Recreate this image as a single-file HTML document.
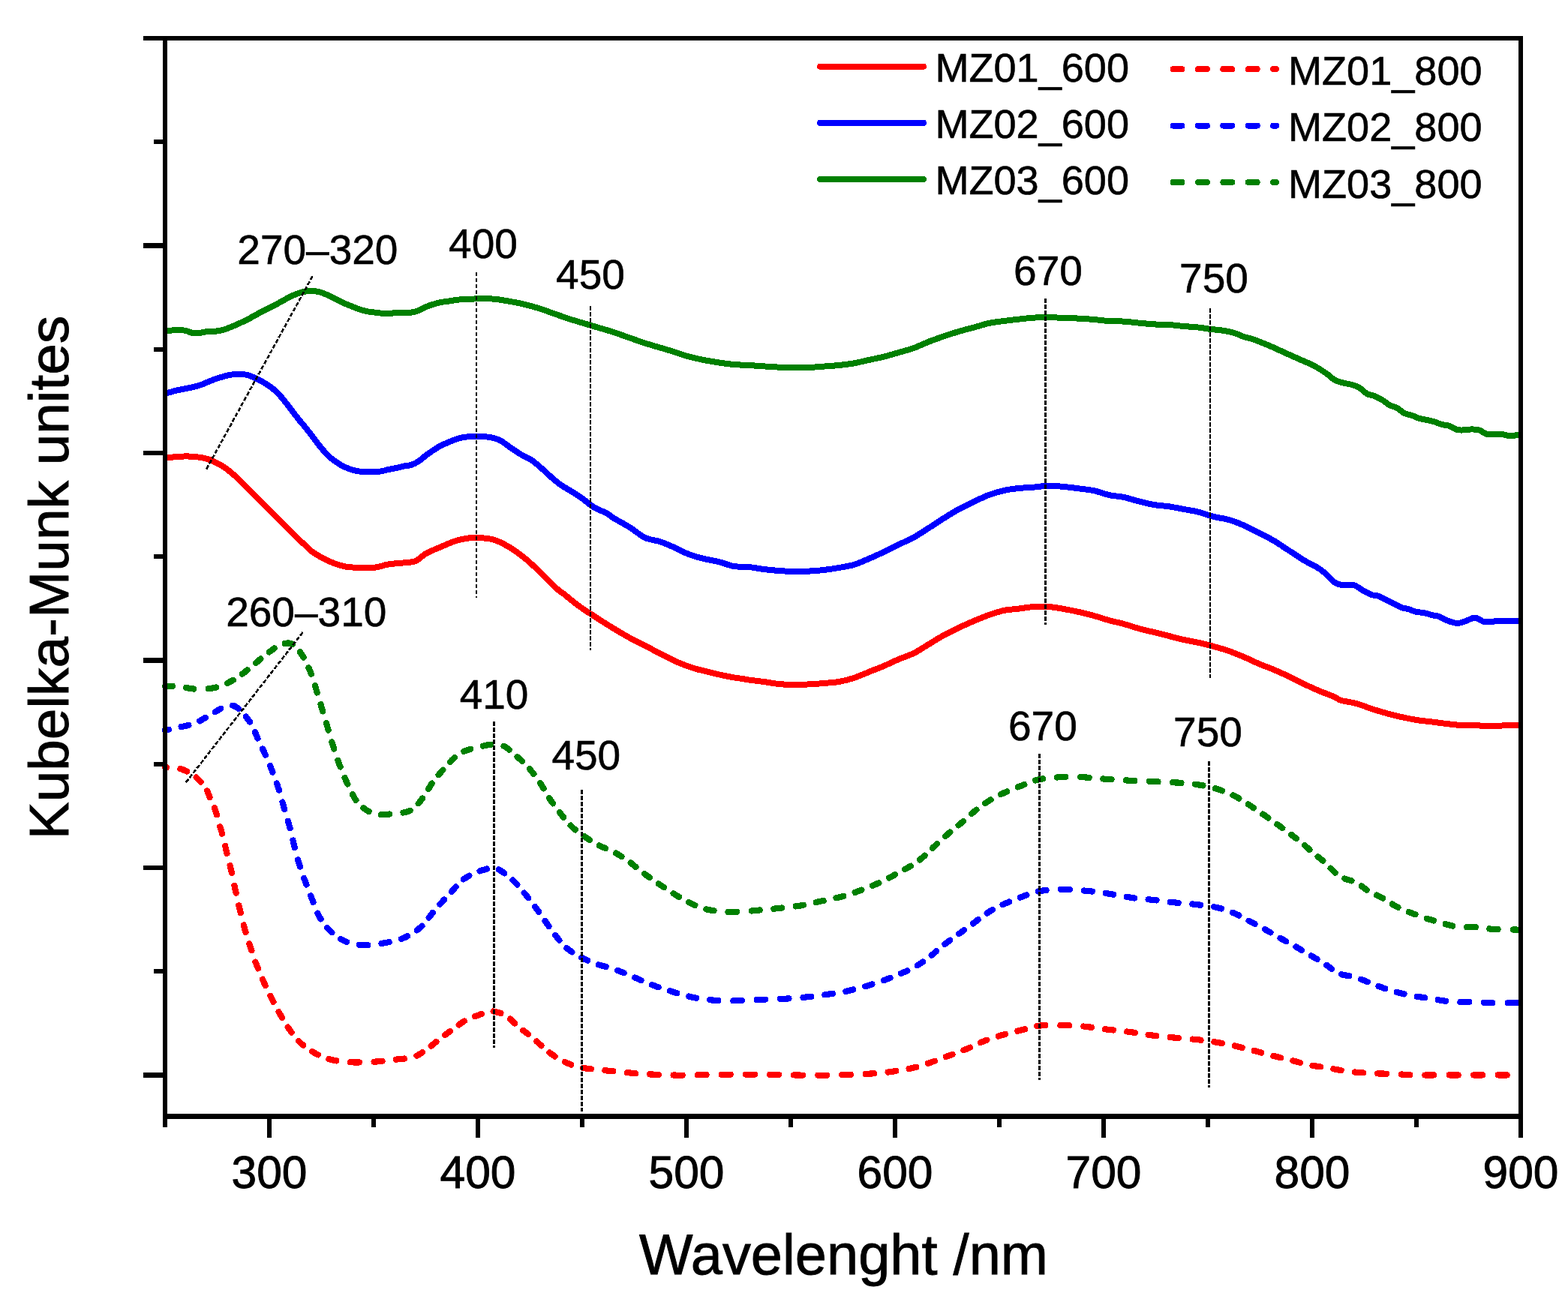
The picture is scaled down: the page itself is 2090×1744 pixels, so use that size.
<!DOCTYPE html>
<html><head><meta charset="utf-8"><title>Kubelka-Munk spectra</title>
<style>html,body{margin:0;padding:0;background:#fff;}svg{display:block;}text{font-family:'Liberation Sans', Arial, sans-serif;fill:#000;stroke:#000;stroke-width:0.6px;}text.b{stroke-width:0.9px;}</style>
</head><body>
<svg width="2090" height="1744" viewBox="0 0 2090 1744">
<rect width="2090" height="1744" fill="#fff"/>
<g id="curves" shape-rendering="crispEdges">
<path d="M220.0,441.0 C220.5,441.0 220.0,441.2 223.0,441.0 C226.0,440.8 233.8,440.0 238.0,440.0 C242.2,440.0 244.7,440.3 248.0,441.0 C251.3,441.7 254.7,444.0 258.0,444.4 C261.3,444.8 264.7,444.1 268.0,443.6 C271.3,443.1 274.7,441.9 278.0,441.6 C281.3,441.3 284.7,441.9 288.0,441.6 C291.3,441.3 294.7,440.5 298.0,439.6 C301.3,438.7 304.7,437.3 308.0,436.0 C311.3,434.7 314.7,433.1 318.0,431.6 C321.3,430.1 324.7,428.7 328.0,427.0 C331.3,425.3 334.7,423.4 338.0,421.6 C341.3,419.8 344.7,417.8 348.0,416.0 C351.3,414.2 354.7,412.7 358.0,411.0 C361.3,409.3 364.7,407.8 368.0,406.0 C371.3,404.2 374.7,402.2 378.0,400.4 C381.3,398.6 384.7,396.6 388.0,395.0 C391.3,393.4 394.7,392.1 398.0,391.0 C401.3,389.9 404.7,388.9 408.0,388.4 C411.3,387.9 414.7,387.7 418.0,388.0 C421.3,388.3 424.7,389.0 428.0,390.0 C431.3,391.0 434.7,392.5 438.0,394.0 C441.3,395.5 444.7,397.3 448.0,399.0 C451.3,400.7 454.7,402.5 458.0,404.0 C461.3,405.5 464.7,406.7 468.0,408.0 C471.3,409.3 474.7,410.8 478.0,412.0 C481.3,413.2 484.7,414.3 488.0,415.0 C491.3,415.7 494.7,416.0 498.0,416.4 C501.3,416.8 504.7,417.4 508.0,417.6 C511.3,417.8 514.7,417.6 518.0,417.6 C521.3,417.6 524.7,417.5 528.0,417.4 C531.3,417.3 534.7,417.1 538.0,417.0 C541.3,416.9 544.7,417.1 548.0,416.6 C551.3,416.1 554.7,415.3 558.0,414.0 C561.3,412.7 564.7,410.4 568.0,409.0 C571.3,407.6 574.7,406.6 578.0,405.6 C581.3,404.6 584.7,403.7 588.0,403.0 C591.3,402.3 594.7,402.1 598.0,401.6 C601.3,401.1 604.7,400.4 608.0,400.0 C611.3,399.6 613.0,399.3 618.0,399.0 C623.0,398.7 631.3,398.5 638.0,398.4 C644.7,398.3 651.3,398.1 658.0,398.6 C664.7,399.1 671.3,400.4 678.0,401.6 C684.7,402.8 691.3,404.0 698.0,405.6 C704.7,407.2 711.3,408.9 718.0,411.0 C724.7,413.1 731.3,415.7 738.0,418.0 C744.7,420.3 751.3,422.8 758.0,425.0 C764.7,427.2 771.3,429.0 778.0,431.0 C784.7,433.0 791.3,435.0 798.0,437.0 C804.7,439.0 811.3,440.8 818.0,443.0 C824.7,445.2 831.3,447.7 838.0,450.0 C844.7,452.3 851.3,454.8 858.0,457.0 C864.7,459.2 871.3,461.0 878.0,463.0 C884.7,465.0 891.3,466.9 898.0,469.0 C904.7,471.1 911.3,473.6 918.0,475.4 C924.7,477.2 931.3,478.7 938.0,480.0 C944.7,481.3 951.3,482.4 958.0,483.4 C964.7,484.4 971.3,485.4 978.0,486.0 C984.7,486.6 991.3,486.6 998.0,487.0 C1004.7,487.4 1011.3,488.0 1018.0,488.4 C1024.7,488.8 1031.3,489.3 1038.0,489.6 C1044.7,489.9 1051.3,490.3 1058.0,490.4 C1064.7,490.5 1071.3,490.3 1078.0,490.0 C1084.7,489.7 1091.3,489.1 1098.0,488.6 C1104.7,488.1 1111.3,487.7 1118.0,487.0 C1124.7,486.3 1131.3,485.6 1138.0,484.4 C1144.7,483.2 1151.3,481.5 1158.0,480.0 C1164.7,478.5 1171.3,477.3 1178.0,475.6 C1184.7,473.9 1191.3,471.9 1198.0,470.0 C1204.7,468.1 1211.3,466.4 1218.0,464.0 C1224.7,461.6 1231.3,458.2 1238.0,455.6 C1244.7,453.0 1251.3,450.7 1258.0,448.4 C1264.7,446.1 1271.3,444.0 1278.0,442.0 C1284.7,440.0 1291.3,438.4 1298.0,436.6 C1304.7,434.8 1311.3,432.4 1318.0,431.0 C1324.7,429.6 1331.3,428.9 1338.0,428.0 C1344.7,427.1 1351.3,426.3 1358.0,425.6 C1364.7,424.9 1371.3,424.0 1378.0,423.6 C1384.7,423.2 1391.3,422.9 1398.0,423.0 C1404.7,423.1 1411.3,423.7 1418.0,424.0 C1424.7,424.3 1431.3,424.3 1438.0,424.6 C1444.7,424.9 1451.3,425.4 1458.0,426.0 C1464.7,426.6 1471.3,427.6 1478.0,428.0 C1484.7,428.4 1491.3,428.2 1498.0,428.6 C1504.7,429.0 1511.3,430.0 1518.0,430.6 C1524.7,431.2 1531.3,432.0 1538.0,432.4 C1544.7,432.8 1551.3,432.6 1558.0,433.0 C1564.7,433.4 1571.3,434.4 1578.0,435.0 C1584.7,435.6 1592.0,435.9 1598.0,436.6 C1604.0,437.3 1609.0,438.4 1614.0,439.0 C1619.0,439.6 1623.0,439.6 1628.0,440.4 C1633.0,441.2 1639.0,442.2 1644.0,443.6 C1649.0,445.0 1653.3,447.4 1658.0,449.0 C1662.7,450.6 1666.3,451.0 1672.0,453.0 C1677.7,455.0 1685.3,458.2 1692.0,461.0 C1698.7,463.8 1705.3,467.0 1712.0,470.0 C1718.7,473.0 1725.3,476.0 1732.0,479.0 C1738.7,482.0 1746.0,484.8 1752.0,488.0 C1758.0,491.2 1763.7,495.0 1768.0,498.0 C1772.3,501.0 1774.7,504.0 1778.0,506.0 C1781.3,508.0 1784.0,508.8 1788.0,510.0 C1792.0,511.2 1798.0,511.8 1802.0,513.0 C1806.0,514.2 1808.7,515.0 1812.0,517.0 C1815.3,519.0 1818.7,523.2 1822.0,525.0 C1825.3,526.8 1828.7,526.7 1832.0,528.0 C1835.3,529.3 1838.7,531.0 1842.0,533.0 C1845.3,535.0 1848.7,538.2 1852.0,540.0 C1855.3,541.8 1858.7,542.2 1862.0,544.0 C1865.3,545.8 1868.7,549.3 1872.0,551.0 C1875.3,552.7 1878.7,552.8 1882.0,554.0 C1885.3,555.2 1888.7,557.0 1892.0,558.0 C1895.3,559.0 1898.7,559.3 1902.0,560.0 C1905.3,560.7 1908.7,561.4 1912.0,562.4 C1915.3,563.4 1918.7,565.1 1922.0,566.0 C1925.3,566.9 1928.7,566.8 1932.0,568.0 C1935.3,569.2 1938.7,572.1 1942.0,573.0 C1945.3,573.9 1948.7,573.5 1952.0,573.4 C1955.3,573.3 1958.7,572.4 1962.0,572.4 C1965.3,572.4 1968.7,572.5 1972.0,573.6 C1975.3,574.7 1978.7,578.2 1982.0,579.0 C1985.3,579.8 1988.7,578.6 1992.0,578.6 C1995.3,578.6 1998.7,578.6 2002.0,579.0 C2005.3,579.4 2008.3,580.8 2012.0,581.0 C2015.7,581.2 2022.0,580.2 2024.0,580.0" fill="none" stroke="#008000" stroke-width="8" stroke-linejoin="round"/>
<path d="M220.0,524.5 C220.5,524.4 220.0,524.8 223.0,524.0 C226.0,523.2 232.2,521.3 238.0,520.0 C243.8,518.7 253.0,517.2 258.0,516.0 C263.0,514.8 264.7,514.2 268.0,513.0 C271.3,511.8 274.7,510.3 278.0,509.0 C281.3,507.7 284.7,506.2 288.0,505.0 C291.3,503.8 294.7,502.9 298.0,502.0 C301.3,501.1 304.7,500.1 308.0,499.6 C311.3,499.1 314.7,499.0 318.0,499.0 C321.3,499.0 324.7,498.9 328.0,499.6 C331.3,500.3 334.7,501.6 338.0,503.0 C341.3,504.4 344.7,506.2 348.0,508.0 C351.3,509.8 354.7,511.7 358.0,514.0 C361.3,516.3 364.7,518.8 368.0,522.0 C371.3,525.2 374.7,529.0 378.0,533.0 C381.3,537.0 384.7,541.7 388.0,546.0 C391.3,550.3 394.7,554.8 398.0,559.0 C401.3,563.2 404.7,566.8 408.0,571.0 C411.3,575.2 414.7,579.7 418.0,584.0 C421.3,588.3 424.7,593.0 428.0,597.0 C431.3,601.0 434.7,604.8 438.0,608.0 C441.3,611.2 444.7,613.7 448.0,616.0 C451.3,618.3 454.7,620.3 458.0,622.0 C461.3,623.7 464.7,624.9 468.0,626.0 C471.3,627.1 474.7,627.9 478.0,628.4 C481.3,628.9 484.7,628.9 488.0,629.0 C491.3,629.1 494.7,629.1 498.0,629.0 C501.3,628.9 504.7,628.9 508.0,628.4 C511.3,627.9 514.7,626.7 518.0,626.0 C521.3,625.3 524.7,624.7 528.0,624.0 C531.3,623.3 534.7,622.3 538.0,621.6 C541.3,620.9 544.7,621.1 548.0,620.0 C551.3,618.9 554.7,617.2 558.0,615.0 C561.3,612.8 564.7,609.5 568.0,607.0 C571.3,604.5 574.7,602.2 578.0,600.0 C581.3,597.8 584.7,595.7 588.0,594.0 C591.3,592.3 594.7,591.0 598.0,589.6 C601.3,588.2 604.7,586.7 608.0,585.6 C611.3,584.5 613.7,583.7 618.0,583.0 C622.3,582.3 629.0,581.7 634.0,581.6 C639.0,581.5 644.0,582.0 648.0,582.4 C652.0,582.8 654.7,583.1 658.0,584.0 C661.3,584.9 664.7,586.2 668.0,588.0 C671.3,589.8 674.7,592.7 678.0,595.0 C681.3,597.3 684.7,599.8 688.0,602.0 C691.3,604.2 694.7,606.2 698.0,608.0 C701.3,609.8 704.7,610.8 708.0,613.0 C711.3,615.2 714.7,618.2 718.0,621.0 C721.3,623.8 724.7,627.0 728.0,630.0 C731.3,633.0 734.7,636.2 738.0,639.0 C741.3,641.8 744.7,644.7 748.0,647.0 C751.3,649.3 754.7,651.0 758.0,653.0 C761.3,655.0 764.7,656.8 768.0,659.0 C771.3,661.2 774.7,663.5 778.0,666.0 C781.3,668.5 784.7,671.7 788.0,674.0 C791.3,676.3 794.7,677.9 798.0,679.6 C801.3,681.3 804.3,681.9 808.0,684.0 C811.7,686.1 814.7,688.8 820.0,692.0 C825.3,695.2 833.3,699.3 840.0,703.5 C846.7,707.7 853.3,713.9 860.0,717.0 C866.7,720.1 873.3,720.0 880.0,722.3 C886.7,724.5 893.7,727.7 900.0,730.5 C906.3,733.3 911.7,736.6 918.0,739.0 C924.3,741.4 931.3,743.3 938.0,745.0 C944.7,746.7 951.3,747.3 958.0,749.0 C964.7,750.7 971.3,753.8 978.0,755.0 C984.7,756.2 991.3,755.3 998.0,756.0 C1004.7,756.7 1011.3,758.2 1018.0,759.0 C1024.7,759.8 1031.3,760.5 1038.0,761.0 C1044.7,761.5 1051.3,761.9 1058.0,762.0 C1064.7,762.1 1071.3,761.9 1078.0,761.6 C1084.7,761.3 1091.3,760.8 1098.0,760.0 C1104.7,759.2 1111.3,758.2 1118.0,757.0 C1124.7,755.8 1131.3,755.0 1138.0,753.0 C1144.7,751.0 1151.3,747.8 1158.0,745.0 C1164.7,742.2 1171.3,739.2 1178.0,736.0 C1184.7,732.8 1191.3,729.2 1198.0,726.0 C1204.7,722.8 1211.3,720.2 1218.0,716.5 C1224.7,712.8 1231.3,708.2 1238.0,704.0 C1244.7,699.8 1251.3,695.2 1258.0,691.0 C1264.7,686.8 1271.3,682.7 1278.0,679.0 C1284.7,675.3 1291.3,672.2 1298.0,669.0 C1304.7,665.8 1311.3,662.5 1318.0,660.0 C1324.7,657.5 1331.3,655.5 1338.0,654.0 C1344.7,652.5 1351.3,651.7 1358.0,651.0 C1364.7,650.3 1371.3,650.2 1378.0,649.6 C1384.7,649.0 1391.3,647.7 1398.0,647.6 C1404.7,647.5 1411.3,648.4 1418.0,649.0 C1424.7,649.6 1431.3,650.5 1438.0,651.4 C1444.7,652.3 1451.3,652.8 1458.0,654.2 C1464.7,655.6 1471.3,658.5 1478.0,660.0 C1484.7,661.5 1491.3,661.6 1498.0,663.0 C1504.7,664.4 1511.3,666.8 1518.0,668.5 C1524.7,670.2 1531.3,671.9 1538.0,673.0 C1544.7,674.1 1551.3,674.3 1558.0,675.3 C1564.7,676.3 1571.3,677.8 1578.0,679.0 C1584.7,680.2 1591.3,681.1 1598.0,682.8 C1604.7,684.5 1611.3,687.3 1618.0,689.0 C1624.7,690.7 1631.3,691.1 1638.0,693.0 C1644.7,694.9 1651.3,697.6 1658.0,700.5 C1664.7,703.4 1671.3,707.1 1678.0,710.5 C1684.7,713.9 1691.3,717.1 1698.0,721.0 C1704.7,724.9 1711.3,729.7 1718.0,734.0 C1724.7,738.3 1731.3,743.0 1738.0,747.0 C1744.7,751.0 1753.0,754.8 1758.0,758.0 C1763.0,761.2 1764.7,763.0 1768.0,766.0 C1771.3,769.0 1774.7,773.7 1778.0,776.0 C1781.3,778.3 1783.7,779.3 1788.0,780.0 C1792.3,780.7 1799.0,778.7 1804.0,780.0 C1809.0,781.3 1814.0,785.8 1818.0,788.0 C1822.0,790.2 1824.7,791.8 1828.0,793.0 C1831.3,794.2 1834.7,793.8 1838.0,795.0 C1841.3,796.2 1844.7,798.3 1848.0,800.0 C1851.3,801.7 1854.7,803.3 1858.0,805.0 C1861.3,806.7 1864.7,808.8 1868.0,810.0 C1871.3,811.2 1874.7,811.4 1878.0,812.4 C1881.3,813.4 1884.7,815.2 1888.0,816.0 C1891.3,816.8 1894.7,816.3 1898.0,817.0 C1901.3,817.7 1904.7,819.2 1908.0,820.0 C1911.3,820.8 1914.7,820.8 1918.0,822.0 C1921.3,823.2 1924.0,825.5 1928.0,827.0 C1932.0,828.5 1937.7,830.8 1942.0,831.0 C1946.3,831.2 1950.0,829.2 1954.0,828.0 C1958.0,826.8 1962.0,823.4 1966.0,823.6 C1970.0,823.8 1974.3,828.1 1978.0,829.0 C1981.7,829.9 1984.7,829.2 1988.0,829.0 C1991.3,828.8 1994.7,827.7 1998.0,827.6 C2001.3,827.5 2003.7,828.4 2008.0,828.4 C2012.3,828.4 2021.3,827.7 2024.0,827.6" fill="none" stroke="#0000ff" stroke-width="8" stroke-linejoin="round"/>
<path d="M220.0,610.0 C220.5,610.0 220.0,610.2 223.0,610.0 C226.0,609.8 233.8,609.3 238.0,609.0 C242.2,608.7 244.7,608.4 248.0,608.4 C251.3,608.4 254.7,608.7 258.0,609.0 C261.3,609.3 264.7,609.4 268.0,610.0 C271.3,610.6 274.7,611.2 278.0,612.4 C281.3,613.6 284.7,615.3 288.0,617.0 C291.3,618.7 294.7,620.2 298.0,622.4 C301.3,624.6 304.7,627.2 308.0,630.0 C311.3,632.8 314.7,635.8 318.0,639.0 C321.3,642.2 324.7,645.7 328.0,649.0 C331.3,652.3 334.7,655.7 338.0,659.0 C341.3,662.3 344.7,665.7 348.0,669.0 C351.3,672.3 354.7,675.7 358.0,679.0 C361.3,682.3 364.7,685.7 368.0,689.0 C371.3,692.3 374.7,695.7 378.0,699.0 C381.3,702.3 384.7,705.7 388.0,709.0 C391.3,712.3 394.7,715.8 398.0,719.0 C401.3,722.2 404.7,725.0 408.0,728.0 C411.3,731.0 413.0,733.7 418.0,737.0 C423.0,740.3 431.3,745.0 438.0,748.0 C444.7,751.0 451.3,753.5 458.0,755.0 C464.7,756.5 471.3,756.7 478.0,757.0 C484.7,757.3 491.3,757.8 498.0,757.0 C504.7,756.2 511.3,753.5 518.0,752.4 C524.7,751.3 532.0,751.1 538.0,750.4 C544.0,749.7 549.0,750.1 554.0,748.0 C559.0,745.9 562.3,741.2 568.0,738.0 C573.7,734.8 581.3,731.8 588.0,729.0 C594.7,726.2 601.3,723.0 608.0,721.0 C614.7,719.0 623.0,717.7 628.0,717.0 C633.0,716.3 633.0,716.6 638.0,717.0 C643.0,717.4 651.3,717.6 658.0,719.6 C664.7,721.6 671.3,725.1 678.0,729.0 C684.7,732.9 691.3,737.7 698.0,743.0 C704.7,748.3 711.0,754.3 718.0,761.0 C725.0,767.7 734.3,777.7 740.0,783.0 C745.7,788.3 748.2,789.3 752.4,792.6 C756.5,795.9 760.8,799.7 764.9,802.9 C769.0,806.1 773.1,809.1 777.3,812.0 C781.4,814.9 785.6,817.4 789.8,820.1 C793.9,822.8 798.1,825.6 802.2,828.2 C806.3,830.8 810.5,833.4 814.6,835.9 C818.8,838.4 823.0,840.9 827.1,843.4 C831.2,845.9 835.4,848.4 839.5,850.6 C843.6,852.8 847.9,854.7 852.0,856.8 C856.1,858.9 860.2,861.1 864.4,863.3 C868.5,865.5 872.8,867.7 876.9,869.9 C881.0,872.1 885.2,874.2 889.3,876.3 C893.4,878.4 897.6,880.5 901.7,882.3 C905.9,884.1 910.1,885.8 914.2,887.3 C918.4,888.8 922.5,890.4 926.6,891.6 C930.7,892.8 934.9,893.7 939.0,894.7 C943.1,895.7 947.4,896.8 951.5,897.8 C955.6,898.8 959.8,899.7 963.9,900.6 C968.0,901.5 972.2,902.4 976.4,903.1 C980.5,903.8 984.9,904.3 988.8,904.9 C992.7,905.5 995.1,906.1 1000.0,906.8 C1004.9,907.5 1011.7,908.1 1018.0,909.0 C1024.3,909.9 1031.3,911.3 1038.0,912.0 C1044.7,912.7 1051.3,912.9 1058.0,913.0 C1064.7,913.1 1071.3,912.7 1078.0,912.4 C1084.7,912.1 1091.3,911.6 1098.0,911.0 C1104.7,910.4 1111.3,910.2 1118.0,909.0 C1124.7,907.8 1131.3,906.2 1138.0,904.0 C1144.7,901.8 1151.3,898.7 1158.0,896.0 C1164.7,893.3 1171.3,890.8 1178.0,888.0 C1184.7,885.2 1191.3,881.8 1198.0,879.0 C1204.7,876.2 1211.3,874.3 1218.0,871.0 C1224.7,867.7 1231.3,863.0 1238.0,859.0 C1244.7,855.0 1251.3,850.7 1258.0,847.0 C1264.7,843.3 1271.3,840.2 1278.0,837.0 C1284.7,833.8 1291.3,830.8 1298.0,828.0 C1304.7,825.2 1311.3,822.3 1318.0,820.0 C1324.7,817.7 1331.3,815.4 1338.0,814.0 C1344.7,812.6 1351.3,812.4 1358.0,811.6 C1364.7,810.8 1371.3,809.4 1378.0,809.0 C1384.7,808.6 1391.3,808.5 1398.0,809.0 C1404.7,809.5 1411.3,810.8 1418.0,812.0 C1424.7,813.2 1431.3,814.5 1438.0,816.0 C1444.7,817.5 1451.3,819.2 1458.0,821.0 C1464.7,822.8 1471.3,825.2 1478.0,827.0 C1484.7,828.8 1491.3,830.2 1498.0,832.0 C1504.7,833.8 1511.3,836.2 1518.0,838.0 C1524.7,839.8 1531.3,841.3 1538.0,843.0 C1544.7,844.7 1551.3,846.3 1558.0,848.0 C1564.7,849.7 1571.3,851.5 1578.0,853.0 C1584.7,854.5 1591.3,855.5 1598.0,857.0 C1604.7,858.5 1611.3,860.2 1618.0,862.0 C1624.7,863.8 1631.3,865.7 1638.0,868.0 C1644.7,870.3 1651.3,873.2 1658.0,876.0 C1664.7,878.8 1671.3,882.2 1678.0,885.0 C1684.7,887.8 1691.3,890.2 1698.0,893.0 C1704.7,895.8 1711.3,898.8 1718.0,902.0 C1724.7,905.2 1731.3,908.8 1738.0,912.0 C1744.7,915.2 1751.3,918.2 1758.0,921.0 C1764.7,923.8 1773.0,926.8 1778.0,929.0 C1783.0,931.2 1783.0,932.5 1788.0,934.0 C1793.0,935.5 1801.3,936.2 1808.0,938.0 C1814.7,939.8 1821.3,942.8 1828.0,945.0 C1834.7,947.2 1841.3,949.2 1848.0,951.0 C1854.7,952.8 1861.3,954.5 1868.0,956.0 C1874.7,957.5 1881.3,958.9 1888.0,960.0 C1894.7,961.1 1901.3,961.6 1908.0,962.4 C1914.7,963.2 1921.3,964.2 1928.0,965.0 C1934.7,965.8 1941.3,966.7 1948.0,967.0 C1954.7,967.3 1962.7,966.8 1968.0,967.0 C1973.3,967.2 1975.0,968.3 1980.0,968.4 C1985.0,968.5 1990.7,967.8 1998.0,967.6 C2005.3,967.4 2019.7,967.1 2024.0,967.0" fill="none" stroke="#ff0000" stroke-width="8" stroke-linejoin="round"/>
<path d="M220.0,915.0 L222.0,914.9 L226.2,914.8 L229.7,914.7 M248.0,916.9 L251.0,917.5 L256.0,918.3 L258.3,918.6 M277.7,918.3 L281.2,917.9 L285.7,917.0 L287.9,916.5 M302.9,911.0 L304.5,910.2 L309.0,907.7 L310.7,906.8 M323.0,898.6 L326.0,896.3 L329.0,893.9 L329.7,893.4 M341.0,884.1 L343.3,882.1 L346.4,879.4 L347.4,878.5 M358.8,869.4 L360.6,868.1 L363.6,865.8 L365.8,864.4 M379.7,857.9 L383.7,857.4 L388.3,858.0 L389.9,858.8 M399.9,869.3 L401.8,872.1 L404.0,875.5 L404.6,876.6 M411.4,890.3 L412.3,892.3 L414.2,897.1 L414.8,898.8 M420.0,914.2 L420.8,917.1 L422.2,921.8 L422.7,923.5 M427.5,939.2 L428.3,941.9 L429.7,946.5 L430.3,948.4 M435.0,964.2 L435.6,966.2 L436.8,970.6 L437.7,973.5 M442.3,989.3 L443.1,991.7 L444.5,996.3 L445.2,998.5 M450.4,1013.8 L451.5,1016.7 L452.6,1019.8 L453.7,1022.5 M459.5,1037.1 L460.8,1040.0 L462.2,1043.1 L463.3,1045.4 M469.9,1059.2 L471.1,1061.5 L472.9,1064.5 L474.4,1066.8 M484.5,1077.2 L486.6,1078.8 L489.8,1081.0 L491.6,1082.1 M507.9,1086.3 L511.6,1086.2 L516.3,1085.8 L519.1,1085.5 M537.5,1083.5 L541.1,1082.7 L545.3,1081.3 L546.7,1080.7 M557.8,1071.2 L560.0,1068.5 L562.6,1065.2 L563.1,1064.5 M571.1,1052.1 L572.3,1049.9 L574.1,1046.9 L575.6,1044.6 M584.7,1033.1 L586.0,1031.5 L588.7,1028.5 L590.3,1026.7 M600.0,1015.9 L602.1,1013.7 L605.0,1011.0 L606.1,1010.0 M618.4,1001.8 L620.7,1000.9 L625.2,999.4 L627.3,998.7 M643.7,994.7 L647.6,993.8 L652.3,993.0 L653.8,992.8 M671.5,994.8 L673.5,995.8 L676.5,997.8 L678.7,999.6 M689.6,1009.2 L691.8,1011.1 L694.9,1013.9 L695.9,1014.9 M706.0,1025.3 L707.6,1027.3 L710.0,1030.2 L711.3,1031.9 M719.9,1043.9 L721.1,1045.6 L723.0,1048.7 L724.5,1051.3 M732.1,1064.2 L734.1,1067.1 L736.1,1070.1 L737.0,1071.3 M745.8,1083.0 L747.4,1085.0 L749.9,1088.2 L751.1,1089.7 M760.6,1100.6 L762.0,1102.0 L764.9,1104.7 L766.9,1106.4 M778.7,1115.1 L781.5,1117.0 L784.4,1119.0 L785.9,1119.9 M798.9,1127.4 L801.0,1128.5 L804.1,1129.8 L807.1,1131.1 M821.1,1137.6 L823.2,1138.8 L826.4,1140.8 L828.6,1142.2 M840.7,1150.5 L843.4,1152.6 L846.5,1155.2 L847.4,1155.9 M858.8,1165.0 L860.4,1166.2 L863.5,1168.4 L865.8,1170.0 M877.9,1178.3 L880.5,1180.1 L883.4,1182.1 L885.1,1183.2 M897.6,1191.2 L899.9,1192.7 L903.0,1194.7 L905.0,1195.8 M918.2,1203.1 L920.3,1204.2 L924.8,1206.3 L926.3,1207.0 M941.4,1212.4 L944.4,1213.1 L948.9,1213.9 L951.5,1214.3 M970.5,1215.8 L973.7,1215.8 L978.5,1215.7 L982.3,1215.6 M1001.7,1214.5 L1005.0,1214.2 L1009.5,1213.8 L1012.7,1213.5 M1031.4,1211.7 L1036.2,1211.2 L1040.7,1210.7 L1042.3,1210.5 M1060.7,1208.4 L1064.4,1207.9 L1069.0,1207.1 L1070.9,1206.7 M1087.8,1203.1 L1091.0,1202.3 L1095.5,1201.3 L1097.6,1200.9 M1114.6,1197.3 L1118.2,1196.5 L1122.6,1195.4 L1124.2,1194.9 M1139.6,1189.9 L1141.3,1189.3 L1145.9,1187.6 L1148.4,1186.6 M1163.1,1180.8 L1164.8,1180.1 L1169.4,1178.1 L1171.4,1177.2 M1185.2,1170.5 L1187.6,1169.2 L1190.6,1167.5 L1193.0,1166.2 M1206.2,1159.0 L1208.8,1157.5 L1211.9,1155.8 L1213.9,1154.7 M1226.1,1146.4 L1228.9,1144.0 L1232.2,1141.1 L1232.5,1140.8 M1243.0,1130.7 L1244.8,1129.0 L1247.6,1126.3 L1249.1,1124.9 M1259.9,1115.2 L1261.3,1113.9 L1264.1,1111.5 L1266.3,1109.6 M1277.6,1100.3 L1279.4,1098.8 L1282.5,1096.3 L1284.1,1094.9 M1294.9,1085.2 L1297.7,1082.7 L1301.0,1080.0 L1301.4,1079.7 M1313.2,1071.0 L1316.4,1068.9 L1319.5,1066.9 L1320.5,1066.3 M1333.9,1059.2 L1336.6,1057.9 L1340.0,1056.4 L1342.2,1055.4 M1356.7,1049.4 L1358.3,1048.8 L1363.0,1047.0 L1365.3,1046.1 M1380.2,1040.5 L1382.5,1039.8 L1387.3,1038.7 L1390.0,1038.3 M1408.7,1036.5 L1412.0,1036.3 L1416.6,1036.1 L1420.2,1035.9 M1440.2,1036.1 L1444.4,1036.3 L1448.9,1036.6 L1451.6,1036.8 M1470.3,1038.5 L1474.5,1038.9 L1479.2,1039.2 L1481.5,1039.4 M1500.9,1040.4 L1505.5,1040.7 L1510.0,1040.9 L1512.3,1041.0 M1531.9,1041.9 L1535.7,1042.1 L1540.5,1042.3 L1543.5,1042.4 M1563.1,1043.2 L1566.3,1043.4 L1570.9,1043.6 L1574.5,1043.8 M1593.1,1045.7 L1595.8,1046.1 L1600.6,1046.9 L1603.4,1047.4 M1620.1,1051.3 L1622.1,1051.9 L1626.8,1053.5 L1629.0,1054.3 M1643.4,1060.4 L1646.0,1061.6 L1649.0,1063.1 L1651.4,1064.5 M1663.9,1072.4 L1665.9,1073.8 L1669.0,1075.9 L1671.0,1077.3 M1683.2,1085.6 L1686.3,1087.6 L1689.4,1089.8 L1690.4,1090.5 M1702.4,1099.0 L1704.3,1100.4 L1707.3,1102.5 L1709.3,1104.0 M1721.1,1112.8 L1724.1,1115.1 L1727.2,1117.4 L1727.9,1117.9 M1739.1,1127.2 L1741.1,1129.0 L1744.1,1131.7 L1745.4,1132.9 M1756.6,1142.3 L1759.4,1144.5 L1762.6,1147.1 L1763.2,1147.6 M1773.6,1157.7 L1775.1,1159.2 L1778.3,1162.5 L1779.6,1163.7 M1792.3,1171.5 L1794.2,1172.2 L1799.1,1173.7 L1801.4,1174.4 M1814.9,1181.4 L1817.6,1183.6 L1820.7,1185.8 L1821.8,1186.6 M1835.2,1193.6 L1837.8,1194.8 L1840.9,1196.4 L1843.2,1197.6 M1855.8,1205.5 L1857.6,1206.7 L1861.1,1208.6 L1863.5,1209.8 M1877.8,1216.0 L1879.9,1216.8 L1884.8,1218.7 L1886.5,1219.3 M1901.7,1224.7 L1903.6,1225.3 L1908.2,1226.7 L1910.8,1227.5 M1926.7,1232.1 L1929.7,1233.0 L1934.3,1234.1 L1936.3,1234.6 M1955.1,1236.2 L1959.0,1236.2 L1963.5,1236.2 L1966.9,1236.3 M1985.3,1238.4 L1988.6,1238.8 L1993.4,1239.1 L1996.5,1239.2 M2016.7,1239.5 L2018.4,1239.5 L2022.2,1239.6 L2024.0,1239.6" fill="none" stroke="#008000" stroke-width="8.2" stroke-linejoin="round" stroke-linecap="round"/>
<path d="M220.0,974.0 L221.5,973.6 L224.0,973.0 L224.8,972.8 M241.6,969.1 L243.5,968.7 L248.6,967.6 L251.4,966.9 M266.3,961.3 L267.9,960.3 L270.9,958.6 L273.8,956.8 M286.7,949.2 L288.7,948.1 L291.8,946.2 L294.3,944.8 M310.2,940.8 L312.9,941.6 L316.2,943.5 L318.0,945.0 M327.9,955.6 L330.2,958.6 L332.8,962.2 L333.0,962.5 M339.9,976.1 L341.2,979.0 L342.4,982.1 L343.5,984.5 M350.0,998.5 L350.8,1000.1 L352.9,1004.5 L353.9,1006.6 M360.1,1020.9 L360.9,1023.0 L362.8,1027.8 L363.4,1029.6 M368.9,1044.6 L369.9,1047.5 L370.9,1050.7 L371.9,1053.6 M376.5,1069.5 L377.0,1071.2 L378.3,1076.0 L379.1,1078.9 M383.8,1094.7 L384.5,1097.1 L385.8,1101.5 L386.5,1104.0 M390.5,1120.5 L391.1,1123.2 L392.2,1127.9 L392.8,1130.2 M397.1,1146.4 L397.6,1148.2 L399.0,1152.9 L399.9,1155.6 M405.2,1170.8 L406.3,1173.7 L407.4,1176.7 L408.5,1179.5 M414.1,1194.4 L414.7,1195.8 L416.6,1200.5 L417.5,1203.0 M423.3,1217.7 L424.2,1219.5 L426.0,1222.7 L427.6,1225.4 M436.3,1237.2 L439.0,1240.0 L441.8,1242.7 L442.3,1243.2 M454.1,1251.9 L456.2,1253.1 L460.7,1255.2 L462.2,1255.8 M478.8,1259.7 L482.0,1260.0 L486.4,1260.2 L490.2,1260.1 M508.5,1257.9 L512.5,1257.3 L517.1,1256.4 L518.7,1256.1 M534.9,1251.8 L537.0,1251.0 L540.3,1249.6 L543.2,1248.1 M555.8,1240.2 L558.3,1238.3 L561.0,1236.0 L562.4,1234.7 M571.7,1223.6 L573.8,1220.9 L576.2,1217.7 L576.9,1216.8 M586.4,1205.8 L588.7,1203.3 L591.6,1200.1 L592.1,1199.5 M602.0,1188.8 L604.4,1186.1 L607.1,1182.9 L607.5,1182.4 M617.9,1172.3 L619.8,1171.0 L622.7,1169.2 L625.3,1167.7 M639.5,1161.4 L641.3,1160.8 L646.3,1159.3 L648.8,1158.6 M665.1,1159.4 L667.2,1160.8 L669.8,1162.6 L672.1,1164.3 M683.4,1173.5 L685.4,1175.4 L688.2,1178.2 L689.4,1179.5 M698.8,1190.6 L701.2,1193.5 L703.6,1196.5 L704.2,1197.2 M713.1,1208.8 L715.1,1211.5 L717.3,1214.6 L718.2,1215.8 M726.5,1227.9 L728.0,1230.0 L730.4,1233.4 L731.5,1235.0 M740.1,1246.8 L741.3,1248.3 L743.7,1251.5 L745.4,1253.6 M755.4,1264.1 L757.4,1265.7 L760.5,1267.9 L762.3,1269.2 M775.2,1276.7 L778.0,1278.2 L781.1,1279.7 L783.3,1280.6 M798.1,1286.4 L801.4,1287.3 L805.9,1288.5 L807.5,1288.9 M823.1,1293.9 L825.5,1294.8 L830.0,1296.6 L831.7,1297.3 M846.1,1303.4 L848.0,1304.2 L852.4,1306.2 L854.4,1307.1 M868.9,1313.1 L870.5,1313.7 L875.1,1315.4 L877.7,1316.3 M893.1,1321.3 L895.1,1322.0 L899.7,1323.4 L902.3,1324.2 M918.4,1328.6 L922.2,1329.5 L926.6,1330.5 L928.1,1330.8 M946.2,1333.2 L949.4,1333.5 L954.1,1333.8 L957.4,1334.0 M977.4,1334.4 L981.5,1334.3 L986.0,1334.1 L989.0,1334.0 M1008.7,1333.1 L1012.9,1332.9 L1017.4,1332.7 L1020.1,1332.6 M1039.9,1331.8 L1043.4,1331.7 L1048.0,1331.6 L1051.5,1331.4 M1070.5,1330.0 L1074.3,1329.5 L1078.9,1329.0 L1081.3,1328.7 M1099.4,1326.4 L1103.4,1325.8 L1108.0,1325.1 L1109.9,1324.9 M1127.3,1321.8 L1130.4,1321.1 L1134.7,1320.1 L1137.1,1319.5 M1153.3,1315.2 L1155.6,1314.5 L1160.3,1313.1 L1162.5,1312.4 M1177.8,1307.2 L1180.6,1306.1 L1183.8,1304.9 L1186.4,1303.9 M1201.0,1297.9 L1204.2,1296.6 L1207.4,1295.2 L1209.4,1294.3 M1222.8,1287.2 L1224.6,1286.1 L1227.7,1284.1 L1230.1,1282.5 M1241.8,1273.7 L1243.4,1272.3 L1246.6,1269.6 L1248.2,1268.1 M1259.4,1258.8 L1262.1,1256.8 L1265.1,1254.5 L1266.2,1253.7 M1278.1,1245.1 L1280.3,1243.6 L1283.3,1241.4 L1285.2,1240.1 M1297.0,1231.4 L1298.6,1230.2 L1301.6,1227.8 L1303.7,1226.1 M1315.7,1217.6 L1318.2,1215.9 L1321.3,1213.9 L1322.9,1212.9 M1336.5,1206.0 L1338.2,1205.3 L1342.9,1203.4 L1345.1,1202.5 M1359.8,1196.7 L1361.6,1196.0 L1366.3,1194.1 L1368.4,1193.3 M1384.1,1188.5 L1388.2,1187.8 L1392.9,1187.1 L1394.5,1187.0 M1414.0,1185.9 L1417.8,1185.9 L1422.6,1186.1 L1425.7,1186.2 M1444.9,1187.5 L1448.8,1187.9 L1453.4,1188.3 L1455.8,1188.6 M1473.9,1191.0 L1478.0,1191.6 L1482.6,1192.4 L1484.2,1192.7 M1501.7,1195.7 L1505.3,1196.4 L1509.9,1197.1 L1511.9,1197.5 M1530.6,1199.3 L1534.9,1199.7 L1539.5,1200.2 L1541.5,1200.4 M1559.7,1202.7 L1563.4,1203.1 L1567.7,1203.6 L1570.6,1203.8 M1589.4,1205.5 L1592.6,1205.8 L1597.3,1206.4 L1600.2,1206.7 M1618.2,1209.2 L1620.5,1209.7 L1625.2,1210.8 L1627.9,1211.5 M1643.1,1216.8 L1644.6,1217.4 L1649.5,1219.6 L1651.4,1220.5 M1664.6,1227.8 L1666.6,1228.8 L1669.7,1230.5 L1672.5,1231.9 M1685.9,1239.0 L1688.5,1240.6 L1691.6,1242.3 L1693.5,1243.4 M1706.5,1250.9 L1708.5,1252.0 L1711.5,1253.6 L1714.3,1255.1 M1727.5,1262.4 L1729.9,1263.8 L1733.0,1265.7 L1735.0,1266.9 M1747.9,1274.5 L1750.0,1275.7 L1753.1,1277.5 L1755.5,1278.9 M1768.1,1286.8 L1769.9,1288.1 L1772.9,1290.3 L1775.0,1291.9 M1788.2,1299.2 L1791.2,1300.0 L1795.9,1300.8 L1798.2,1301.2 M1814.2,1305.7 L1816.0,1306.4 L1820.6,1308.3 L1822.7,1309.2 M1837.4,1315.0 L1839.3,1315.7 L1844.0,1317.4 L1846.3,1318.1 M1861.9,1323.0 L1865.5,1323.9 L1870.0,1325.0 L1871.5,1325.4 M1888.7,1328.7 L1892.7,1329.3 L1897.4,1330.0 L1899.1,1330.3 M1916.7,1333.2 L1920.3,1333.8 L1924.9,1334.5 L1927.1,1334.8 M1946.4,1336.0 L1950.8,1336.0 L1955.4,1335.9 L1958.3,1335.9 M1977.9,1336.8 L1981.1,1337.0 L1985.7,1337.2 L1989.4,1337.3 M2009.6,1337.3 L2014.0,1337.2 L2018.5,1337.1 L2021.4,1337.0" fill="none" stroke="#0000ff" stroke-width="8.2" stroke-linejoin="round" stroke-linecap="round"/>
<path d="M220.0,1023.0 L221.0,1023.2 L221.9,1023.3 M240.5,1025.2 L243.3,1026.0 L246.7,1027.4 L249.2,1028.5 M261.7,1036.5 L263.6,1038.5 L266.5,1041.5 L267.6,1042.6 M276.2,1054.5 L277.4,1057.4 L278.7,1060.7 L279.6,1063.1 M286.0,1077.2 L287.0,1080.0 L288.4,1084.4 L288.9,1086.3 M293.3,1102.4 L294.2,1105.3 L295.6,1109.8 L296.1,1111.6 M300.2,1128.0 L300.7,1130.3 L301.9,1135.3 L302.5,1137.7 M306.6,1154.1 L307.2,1156.5 L308.3,1161.0 L308.9,1163.8 M312.5,1180.7 L313.0,1183.4 L314.0,1188.0 L314.6,1190.6 M318.4,1207.3 L318.9,1209.5 L320.0,1214.0 L320.7,1217.0 M324.8,1233.4 L325.2,1235.1 L326.5,1239.6 L327.4,1242.8 M332.4,1258.3 L333.0,1260.0 L334.4,1264.4 L335.4,1267.3 M340.5,1282.7 L341.6,1285.5 L342.8,1288.5 L343.9,1291.3 M350.0,1305.7 L351.0,1308.0 L352.4,1311.2 L353.7,1314.0 M360.4,1327.8 L361.8,1330.5 L363.3,1333.5 L364.4,1335.8 M371.5,1349.2 L372.9,1351.6 L374.7,1354.7 L375.9,1356.8 M383.7,1369.5 L385.1,1371.6 L387.3,1374.7 L388.6,1376.6 M397.9,1387.8 L399.3,1389.3 L402.1,1391.9 L404.1,1393.6 M416.1,1402.1 L418.9,1403.7 L421.9,1405.3 L423.9,1406.3 M438.5,1412.2 L442.3,1413.2 L446.5,1414.1 L448.3,1414.4 M466.9,1416.3 L470.6,1416.4 L475.3,1416.4 L478.8,1416.4 M498.5,1415.7 L501.7,1415.5 L506.2,1415.1 L509.5,1414.7 M527.9,1412.6 L532.2,1412.2 L537.1,1411.7 L538.8,1411.5 M555.5,1407.6 L557.3,1406.7 L560.4,1404.9 L563.0,1403.2 M574.8,1394.5 L577.6,1392.2 L580.6,1389.7 L581.4,1389.1 M593.0,1380.2 L594.8,1378.8 L598.1,1376.4 L599.9,1375.1 M611.7,1366.4 L614.0,1364.7 L616.7,1362.8 L618.8,1361.5 M633.0,1355.2 L635.3,1354.4 L639.0,1353.0 L641.7,1351.9 M657.6,1348.5 L660.0,1349.0 L665.1,1350.2 L667.4,1350.8 M680.1,1358.6 L681.5,1360.1 L684.7,1363.2 L686.1,1364.5 M697.3,1373.8 L699.2,1375.3 L702.6,1377.9 L704.1,1379.1 M715.2,1388.5 L718.2,1391.2 L721.3,1394.0 L721.5,1394.2 M732.6,1403.5 L734.5,1404.9 L737.4,1407.0 L739.6,1408.5 M752.8,1415.9 L755.4,1417.1 L758.5,1418.4 L761.2,1419.5 M777.3,1423.9 L780.4,1424.4 L784.4,1424.9 L787.8,1425.3 M806.4,1427.2 L809.6,1427.6 L814.0,1428.0 L817.3,1428.3 M836.0,1430.2 L840.0,1430.5 L844.5,1430.9 L847.1,1431.1 M866.2,1432.4 L870.4,1432.6 L875.0,1432.9 L877.7,1433.0 M897.6,1433.5 L900.7,1433.6 L905.3,1433.6 L909.6,1433.6 M929.8,1433.3 L933.3,1433.2 L937.9,1433.1 L941.5,1433.0 M961.7,1432.7 L965.4,1432.7 L969.9,1432.6 L973.6,1432.6 M994.0,1432.6 L997.5,1432.6 L1002.0,1432.6 L1006.0,1432.6 M1026.2,1432.8 L1030.4,1432.9 L1034.9,1433.0 L1038.1,1433.0 M1058.1,1433.4 L1062.3,1433.5 L1066.9,1433.6 L1070.0,1433.6 M1090.4,1433.7 L1094.0,1433.7 L1098.5,1433.7 L1102.3,1433.6 M1122.3,1433.1 L1125.5,1433.0 L1130.0,1432.8 L1133.8,1432.7 M1153.6,1431.9 L1157.4,1431.7 L1161.8,1431.5 L1165.0,1431.3 M1183.6,1429.5 L1188.2,1428.9 L1192.7,1428.3 L1194.2,1428.0 M1211.6,1425.0 L1213.9,1424.5 L1218.4,1423.4 L1221.3,1422.7 M1236.9,1417.8 L1238.8,1417.2 L1243.5,1415.5 L1245.9,1414.7 M1260.8,1409.1 L1263.2,1408.2 L1267.6,1406.5 L1269.5,1405.8 M1284.4,1400.3 L1287.0,1399.2 L1290.0,1398.0 L1292.9,1396.7 M1306.8,1390.2 L1308.7,1389.3 L1313.4,1387.4 L1315.4,1386.7 M1330.7,1381.6 L1332.8,1380.9 L1337.4,1379.6 L1340.0,1378.9 M1356.3,1374.6 L1358.6,1374.1 L1363.0,1373.0 L1365.9,1372.3 M1382.3,1368.2 L1387.0,1367.5 L1391.2,1367.1 L1393.2,1367.0 M1413.4,1366.9 L1417.0,1367.0 L1421.8,1367.1 L1425.1,1367.2 M1444.3,1368.5 L1447.3,1368.9 L1451.6,1369.4 L1454.9,1369.8 M1473.0,1372.3 L1475.9,1372.6 L1480.4,1373.1 L1483.8,1373.5 M1502.3,1375.5 L1506.0,1376.0 L1511.0,1376.7 L1512.8,1377.0 M1530.6,1379.7 L1534.0,1380.2 L1538.6,1380.8 L1541.2,1381.1 M1559.7,1383.1 L1563.4,1383.4 L1567.9,1383.8 L1570.7,1384.0 M1589.7,1385.6 L1594.0,1386.0 L1598.7,1386.5 L1600.5,1386.8 M1618.5,1389.3 L1621.3,1389.8 L1625.8,1390.5 L1628.8,1391.0 M1645.8,1394.5 L1648.9,1395.2 L1653.5,1396.3 L1655.5,1396.8 M1671.8,1401.0 L1673.7,1401.4 L1678.5,1402.8 L1681.3,1403.5 M1697.4,1407.9 L1699.8,1408.5 L1704.1,1409.6 L1707.0,1410.3 M1723.4,1414.4 L1725.6,1415.0 L1730.4,1416.2 L1732.9,1416.9 M1749.6,1420.7 L1753.7,1421.5 L1758.1,1422.2 L1759.9,1422.4 M1777.5,1425.3 L1780.4,1425.9 L1784.9,1426.7 L1787.6,1427.2 M1805.8,1429.5 L1809.2,1429.8 L1813.7,1430.2 L1816.9,1430.4 M1836.3,1431.4 L1839.8,1431.5 L1844.5,1431.6 L1848.1,1431.7 M1867.8,1432.5 L1872.2,1432.7 L1876.8,1433.0 L1879.2,1433.1 M1899.3,1433.5 L1902.7,1433.5 L1907.2,1433.5 L1911.2,1433.4 M1931.7,1433.4 L1935.9,1433.4 L1940.4,1433.4 L1943.7,1433.4 M1964.2,1433.4 L1967.7,1433.4 L1972.4,1433.4 L1976.2,1433.4 M1996.7,1433.4 L2001.2,1433.4 L2006.4,1433.4 L2008.7,1433.4" fill="none" stroke="#ff0000" stroke-width="8.2" stroke-linejoin="round" stroke-linecap="round"/>
</g>
<g id="annlines" shape-rendering="crispEdges">
<line x1="635" y1="362.5" x2="635" y2="797" stroke="#000" stroke-width="2.5" stroke-dasharray="5.5 2.5"/>
<line x1="787" y1="408" x2="787" y2="867" stroke="#000" stroke-width="2.5" stroke-dasharray="5.5 2.5"/>
<line x1="1393.2" y1="398" x2="1393.2" y2="833" stroke="#000" stroke-width="3" stroke-dasharray="5.5 2.5"/>
<line x1="1613" y1="411" x2="1613" y2="904" stroke="#000" stroke-width="2.5" stroke-dasharray="5.5 2.5"/>
<line x1="658.6" y1="962" x2="658.6" y2="1397" stroke="#000" stroke-width="3" stroke-dasharray="5.5 2.5"/>
<line x1="775.3" y1="1053" x2="775.3" y2="1482" stroke="#000" stroke-width="3" stroke-dasharray="5.5 2.5"/>
<line x1="1385.5" y1="1005" x2="1385.5" y2="1440" stroke="#000" stroke-width="3" stroke-dasharray="5.5 2.5"/>
<line x1="1611.4" y1="1015" x2="1611.4" y2="1450" stroke="#000" stroke-width="3" stroke-dasharray="5.5 2.5"/>
<line x1="416.6" y1="368.2" x2="275" y2="625.8" stroke="#000" stroke-width="2.6" stroke-dasharray="5.5 2.5"/>
<line x1="403.5" y1="843.2" x2="247.2" y2="1044" stroke="#000" stroke-width="2.6" stroke-dasharray="5.5 2.5"/>
</g>
<g id="axes" shape-rendering="crispEdges">
<path d="M191,51 H2027 M220,48 V1503 M2027,48 V1517" stroke="#000" stroke-width="6" fill="none"/>
<path d="M217,1488.5 H2030" stroke="#000" stroke-width="6.8" fill="none"/>
<line x1="191" y1="51.0" x2="220" y2="51.0" stroke="#000" stroke-width="6.8"/>
<line x1="191" y1="327.5" x2="220" y2="327.5" stroke="#000" stroke-width="6.8"/>
<line x1="191" y1="604.0" x2="220" y2="604.0" stroke="#000" stroke-width="6.8"/>
<line x1="191" y1="880.5" x2="220" y2="880.5" stroke="#000" stroke-width="6.8"/>
<line x1="191" y1="1157.0" x2="220" y2="1157.0" stroke="#000" stroke-width="6.8"/>
<line x1="191" y1="1433.5" x2="220" y2="1433.5" stroke="#000" stroke-width="6.8"/>
<line x1="205" y1="189.2" x2="220" y2="189.2" stroke="#000" stroke-width="6.5"/>
<line x1="205" y1="465.8" x2="220" y2="465.8" stroke="#000" stroke-width="6.5"/>
<line x1="205" y1="742.2" x2="220" y2="742.2" stroke="#000" stroke-width="6.5"/>
<line x1="205" y1="1018.8" x2="220" y2="1018.8" stroke="#000" stroke-width="6.5"/>
<line x1="205" y1="1295.2" x2="220" y2="1295.2" stroke="#000" stroke-width="6.5"/>
<line x1="359.0" y1="1488" x2="359.0" y2="1517" stroke="#000" stroke-width="6.8"/>
<line x1="637.0" y1="1488" x2="637.0" y2="1517" stroke="#000" stroke-width="6.8"/>
<line x1="915.0" y1="1488" x2="915.0" y2="1517" stroke="#000" stroke-width="6.8"/>
<line x1="1193.0" y1="1488" x2="1193.0" y2="1517" stroke="#000" stroke-width="6.8"/>
<line x1="1471.0" y1="1488" x2="1471.0" y2="1517" stroke="#000" stroke-width="6.8"/>
<line x1="1749.0" y1="1488" x2="1749.0" y2="1517" stroke="#000" stroke-width="6.8"/>
<line x1="2027.0" y1="1488" x2="2027.0" y2="1517" stroke="#000" stroke-width="6.8"/>
<line x1="498.0" y1="1488" x2="498.0" y2="1503" stroke="#000" stroke-width="6.5"/>
<line x1="776.0" y1="1488" x2="776.0" y2="1503" stroke="#000" stroke-width="6.5"/>
<line x1="1054.0" y1="1488" x2="1054.0" y2="1503" stroke="#000" stroke-width="6.5"/>
<line x1="1332.0" y1="1488" x2="1332.0" y2="1503" stroke="#000" stroke-width="6.5"/>
<line x1="1610.0" y1="1488" x2="1610.0" y2="1503" stroke="#000" stroke-width="6.5"/>
<line x1="1888.0" y1="1488" x2="1888.0" y2="1503" stroke="#000" stroke-width="6.5"/>
</g>
<g id="text">
<text class="b" x="359.0" y="1583.5" font-size="60.5" text-anchor="middle">300</text>
<text class="b" x="637.0" y="1583.5" font-size="60.5" text-anchor="middle">400</text>
<text class="b" x="915.0" y="1583.5" font-size="60.5" text-anchor="middle">500</text>
<text class="b" x="1193.0" y="1583.5" font-size="60.5" text-anchor="middle">600</text>
<text class="b" x="1471.0" y="1583.5" font-size="60.5" text-anchor="middle">700</text>
<text class="b" x="1749.0" y="1583.5" font-size="60.5" text-anchor="middle">800</text>
<text class="b" x="2027.0" y="1583.5" font-size="60.5" text-anchor="middle">900</text>
<text class="b" x="1124.5" y="1698.6" font-size="75.8" text-anchor="middle">Wavelenght /nm</text>
<text class="b" transform="translate(91,770) rotate(-90)" font-size="74.8" text-anchor="middle">Kubelka-Munk unites</text>
<line x1="1093" y1="88.7" x2="1231" y2="88.7" stroke="#ff0000" stroke-width="8" stroke-linecap="round" shape-rendering="crispEdges"/>
<text x="1246.4" y="109.4" font-size="54.1">MZ01_600</text>
<line x1="1093" y1="163.8" x2="1231" y2="163.8" stroke="#0000ff" stroke-width="8" stroke-linecap="round" shape-rendering="crispEdges"/>
<text x="1246.4" y="184.4" font-size="54.1">MZ02_600</text>
<line x1="1093" y1="238.9" x2="1231" y2="238.9" stroke="#008000" stroke-width="8" stroke-linecap="round" shape-rendering="crispEdges"/>
<text x="1246.4" y="259.4" font-size="54.1">MZ03_600</text>
<line x1="1563.5" y1="92.2" x2="1701" y2="92.2" stroke="#ff0000" stroke-width="8" stroke-linecap="round" stroke-dasharray="12 21.4" shape-rendering="crispEdges"/>
<text x="1717" y="112.8" font-size="54.1">MZ01_800</text>
<line x1="1563.5" y1="167.6" x2="1701" y2="167.6" stroke="#0000ff" stroke-width="8" stroke-linecap="round" stroke-dasharray="12 21.4" shape-rendering="crispEdges"/>
<text x="1717" y="188.2" font-size="54.1">MZ02_800</text>
<line x1="1563.5" y1="243.0" x2="1701" y2="243.0" stroke="#008000" stroke-width="8" stroke-linecap="round" stroke-dasharray="12 21.4" shape-rendering="crispEdges"/>
<text x="1717" y="263.6" font-size="54.1">MZ03_800</text>
<text x="316.3" y="352.4" font-size="55">270–320</text>
<text x="598.1" y="343.6" font-size="55">400</text>
<text x="741.1" y="385.1" font-size="55">450</text>
<text x="1351.1" y="379.9" font-size="55">670</text>
<text x="1572.1" y="390.2" font-size="55">750</text>
<text x="301.2" y="834.9" font-size="55">260–310</text>
<text x="612.7" y="944.6" font-size="55">410</text>
<text x="735.4" y="1026.2" font-size="55">450</text>
<text x="1344.0" y="987.0" font-size="55">670</text>
<text x="1564.1" y="995.0" font-size="55">750</text>
</g>
</svg>
</body></html>
